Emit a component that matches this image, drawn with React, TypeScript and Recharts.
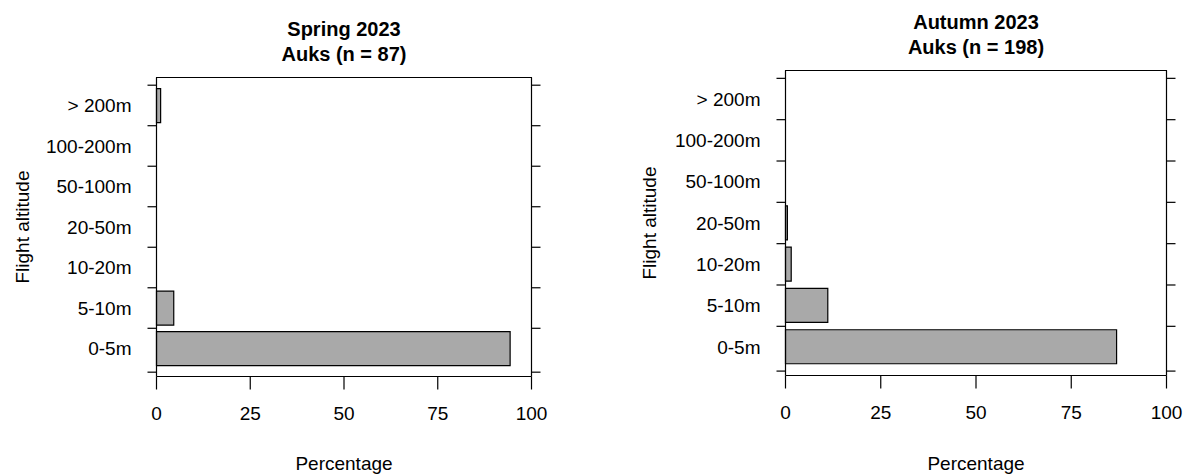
import { BarChart, Bar, XAxis, YAxis } from "recharts";

// flight altitude classes, bottom to top
const altitudeBands = ["0-5m", "5-10m", "10-20m", "20-50m", "50-100m", "100-200m", "> 200m"];

// percentage of auks per altitude class
const springPct = [94.3, 4.6, 0, 0, 0, 0, 1.1];
const autumnPct = [86.9, 11.1, 1.5, 0.5, 0, 0, 0];

const pctTicks = [0, 25, 50, 75, 100];

const FONT = '"Liberation Sans", Arial, Helvetica, sans-serif';
const H = 475;
const TICK_LEN = 9;
// bar axis in base-graphics units: bars 1 wide, 0.2 apart, plot range padded by 4%
const UNITS = 8.856;
const PAD_UNITS = 0.228;

interface PanelProps {
  title: string;
  subtitle: string;
  values: number[];
  left: number;
  width: number;
  plotLeft: number;
  plotRight: number;
  plotTop: number;
  plotBottom: number;
  titleTop: number;
  yLabelX: number;
}

function Panel(p: PanelProps) {
  const data = altitudeBands.map((alt, i) => ({ alt, pct: p.values[i] }));
  const unit = (p.plotBottom - p.plotTop) / UNITS;
  const pad = PAD_UNITS * unit;
  const half = 0.6 * unit;
  const last = altitudeBands.length - 1;
  const textStyle = { fill: "#000", fontSize: 19, fontFamily: FONT };
  const catWidth = p.plotLeft - TICK_LEN;
  const lineProps = { stroke: "#000", strokeWidth: 1.2 };

  // tick marks sit between the bars, the lowest one at the axis origin
  const edgeMarks = (y: number, index: number, x0: number, x1: number) => (
    <>
      <line x1={x0} x2={x1} y1={y + (index === 0 ? 0.7 * unit : half)} y2={y + (index === 0 ? 0.7 * unit : half)} {...lineProps} />
      {index === last && <line x1={x0} x2={x1} y1={y - half} y2={y - half} {...lineProps} />}
    </>
  );

  const leftTick = (props: any) => {
    const { x, y, payload, index } = props;
    return (
      <g>
        <text x={x} y={y} dy="0.355em" textAnchor="end" {...textStyle}>
          {payload.value}
        </text>
        {edgeMarks(y, index, p.plotLeft - TICK_LEN, p.plotLeft)}
      </g>
    );
  };

  const rightTick = (props: any) => {
    const { y, index } = props;
    return <g>{edgeMarks(y, index, p.plotRight, p.plotRight + TICK_LEN)}</g>;
  };

  return (
    <div style={{ position: "absolute", left: p.left, top: 0, width: p.width, height: H }}>
      <BarChart
        width={p.width}
        height={H}
        data={data}
        layout="vertical"
        barCategoryGap="8.333%"
        margin={{ top: p.plotTop, right: p.width - p.plotRight - TICK_LEN, bottom: 0, left: 0 }}
      >
        <XAxis
          xAxisId="pct"
          type="number"
          domain={[0, 100]}
          ticks={pctTicks}
          interval={0}
          tickSize={13}
          tickMargin={17}
          height={H - p.plotBottom}
          axisLine={lineProps}
          tickLine={lineProps}
          tick={textStyle}
          label={{ value: "Percentage", position: "insideBottom", offset: 5, ...textStyle }}
        />
        <YAxis
          yAxisId="cat"
          type="category"
          dataKey="alt"
          reversed
          width={p.plotLeft}
          padding={{ top: pad, bottom: pad }}
          tickSize={0}
          tickMargin={25}
          axisLine={lineProps}
          tickLine={false}
          interval={0}
          tick={leftTick}
        />
        <YAxis
          yAxisId="catR"
          orientation="right"
          type="category"
          dataKey="alt"
          reversed
          width={TICK_LEN}
          padding={{ top: pad, bottom: pad }}
          tickSize={0}
          axisLine={lineProps}
          tickLine={false}
          interval={0}
          tick={rightTick}
        />
        <Bar
          dataKey="pct"
          xAxisId="pct"
          yAxisId="cat"
          fill="#A9A9A9"
          stroke="#000"
          strokeWidth={1.2}
          isAnimationActive={false}
        />
      </BarChart>
      {/* top edge of the plot frame */}
      <div
        style={{
          position: "absolute",
          left: p.plotLeft - 0.5,
          top: p.plotTop - 0.5,
          width: p.plotRight - p.plotLeft + 1,
          height: 0,
          borderTop: "1px solid #000",
          pointerEvents: "none",
        }}
      />
      <div
        style={{
          position: "absolute",
          left: 0,
          top: p.titleTop,
          width: 2 * ((p.plotLeft + p.plotRight) / 2),
          maxWidth: p.width * 2,
          textAlign: "center",
          fontFamily: FONT,
          fontWeight: "bold",
          fontSize: 20,
          lineHeight: "25px",
          color: "#000",
        }}
      >
        <div>{p.title}</div>
        <div>{p.subtitle}</div>
      </div>
      <div
        style={{
          position: "absolute",
          left: p.yLabelX,
          top: (p.plotTop + p.plotBottom) / 2,
          transform: "translate(-50%, -50%) rotate(-90deg)",
          whiteSpace: "nowrap",
          fontFamily: FONT,
          fontSize: 19,
          color: "#000",
        }}
      >
        Flight altitude
      </div>
    </div>
  );
}

export default function App() {
  return (
    <div style={{ position: "absolute", left: 0, top: 0, width: 1186, height: H, background: "#fff", overflow: "hidden" }}>
      <Panel
        title="Spring 2023"
        subtitle="Auks (n = 87)"
        values={springPct}
        left={0}
        width={560}
        plotLeft={156.5}
        plotRight={531.5}
        plotTop={77.5}
        plotBottom={376.5}
        titleTop={16.6}
        yLabelX={23}
      />
      <Panel
        title="Autumn 2023"
        subtitle="Auks (n = 198)"
        values={autumnPct}
        left={600}
        width={586}
        plotLeft={185.5}
        plotRight={566.5}
        plotTop={70.5}
        plotBottom={375.5}
        titleTop={9.6}
        yLabelX={50}
      />
    </div>
  );
}
